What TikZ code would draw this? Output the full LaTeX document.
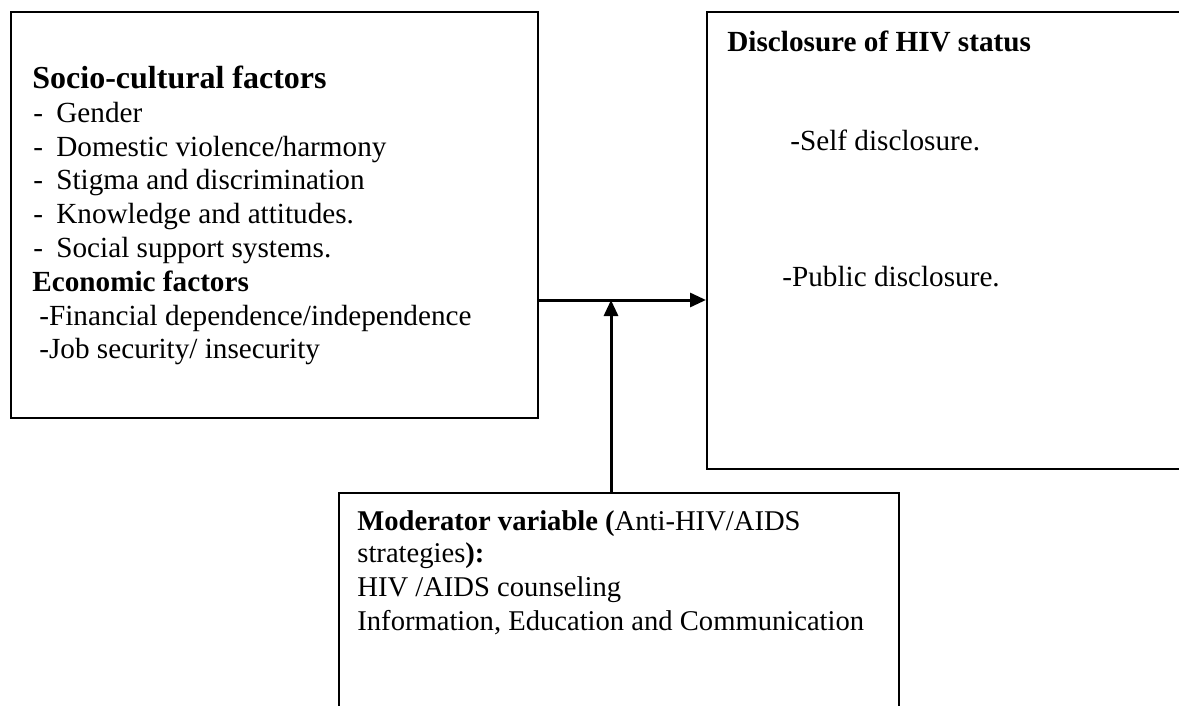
\documentclass[tikz,border=0pt]{standalone}
\usepackage{fontspec}
\setmainfont{Liberation Serif}
\usetikzlibrary{arrows.meta,fit}

\tikzset{
  frame/.style={draw, line width=1pt, inner sep=0pt},
  txt/.style={anchor=base west, inner sep=0pt, font=\fontsize{14.6}{17}\selectfont},
  modtxt/.style={txt, font=\fontsize{14.3}{17}\selectfont},
  head/.style={txt, font=\fontsize{14.6}{17}\selectfont\bfseries},
  bighead/.style={txt, font=\fontsize{16}{19}\selectfont\bfseries},
  link/.style={line width=1.5pt, -{Triangle[length=8pt, width=7pt]}}
}
\newcommand{\itemdash}{\makebox[11.5pt][l]{-}}

\begin{document}
\begin{tikzpicture}[x=0.5pt, y=-0.5pt]
\clip (0,0) rectangle (1179,706);
\fill[white] (0,0) rectangle (1179,706);

% boxes
\node[frame, fit={(11,12) (538,418)}] (social) {};
\node[frame, fit={(707,12) (1210,469)}] (status) {};
\node[frame, fit={(339,493) (899,730)}] (moderator) {};

% independent variables
\node[bighead] (sochead) at (32,89) {Socio-cultural factors};
\node[txt] (gender) at (33,123) {\itemdash Gender};
\node[txt] (violence) at (33,157) {\itemdash Domestic violence/harmony};
\node[txt] (stigma) at (33,190) {\itemdash Stigma and discrimination};
\node[txt] (knowledge) at (33,223) {\itemdash Knowledge and attitudes.};
\node[txt] (support) at (33,257) {\itemdash Social support systems.};
\node[head] (ecohead) at (32,292) {Economic factors};
\node[txt] (finance) at (39,325) {-Financial dependence/independence};
\node[txt] (job) at (39,358) {-Job security/ insecurity};

% dependent variable
\node[head] (stathead) at (727,52) {Disclosure of HIV status};
\node[txt] (self) at (790,151) {-Self disclosure.};
\node[txt] (public) at (782,286) {-Public disclosure.};

% moderator
\node[modtxt] (modhead) at (357,530) {\textbf{Moderator variable (}Anti-HIV/AIDS};
\node[modtxt] (strat) at (357,562) {strategies\textbf{):}};
\node[modtxt] (counsel) at (357,596) {HIV /AIDS counseling};
\node[modtxt] (iec) at (357,630) {Information, Education and Communication};

% connectors
\coordinate (meet) at (611,300);
\draw[link] (social.east |- meet) -- (status.west |- meet);
\draw[link] (moderator.north -| meet) -- (meet);
\end{tikzpicture}
\end{document}
